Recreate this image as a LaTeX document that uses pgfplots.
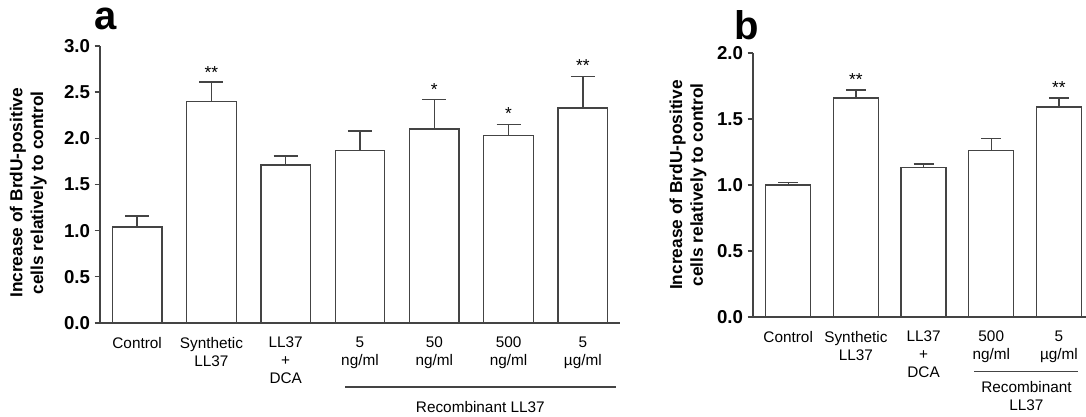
\documentclass[border=0pt]{standalone}
\usepackage{pgfplots}
\pgfplotsset{compat=1.18}
\usepackage{fontspec}
\setmainfont{Liberation Sans}
\definecolor{barline}{HTML}{444444}
\pgfplotsset{
  mybars/.style={
    scale only axis,
    axis lines=left,
    axis line style={barline, line width=1pt, -},
    ymin=0,
    xtick=data,
    x tick style={draw=none},
    y tick style={barline, line width=1pt},
    tick align=outside,
    major tick length=4pt,
    /pgf/number format/assume math mode=true,
    yticklabel style={font=\fontsize{14}{16}\selectfont\bfseries, /pgf/number format/.cd, fixed, fixed zerofill, precision=1},
    xticklabel style={font=\fontsize{11.5}{13.5}\selectfont, align=center, anchor=north, yshift=-3pt},
    ylabel style={font=\fontsize{13}{15.5}\selectfont\bfseries, align=center},
    clip=false,
  },
  barplot/.style={
    ybar, draw=barline, fill=white, line width=1pt,
    error bars/y dir=plus, error bars/y explicit,
    error bars/error bar style={barline, line width=1pt},
  },
}
\begin{document}
\begin{tikzpicture}
\useasboundingbox (0,0) rectangle (814.5pt,312.75pt);
% panel a
\begin{axis}[mybars,
  at={(75pt,70.5pt)}, anchor=south west,
  width=390pt, height=207.75pt,
  xmin=-0.5, xmax=6.5, ymax=3.0,
  ytick={0,0.5,1,1.5,2,2.5,3},
  xticklabels={Control, Synthetic\\LL37, LL37\\+\\DCA, 5\\ng/ml, 50\\ng/ml, 500\\ng/ml, 5\\\textmu g/ml},
  ylabel={Increase of BrdU-positive\\cells relatively to control},
  ylabel style={at={(axis description cs:-0.138,0.47)}, anchor=center},
]
\addplot[barplot, bar width=0.667, error bars/error mark options={rotate=90, mark size=9pt, line width=1pt, barline}]
coordinates {
 (0,1.04) +- (0,0.12)
 (1,2.40) +- (0,0.21)
 (2,1.71) +- (0,0.10)
 (3,1.87) +- (0,0.21)
 (4,2.10) +- (0,0.32)
 (5,2.03) +- (0,0.12)
 (6,2.33) +- (0,0.34)
};
\node[font=\fontsize{13}{13}\selectfont, anchor=south] at (axis cs:1,2.60) {**};
\node[font=\fontsize{13}{13}\selectfont, anchor=south] at (axis cs:4,2.41) {*};
\node[font=\fontsize{13}{13}\selectfont, anchor=south] at (axis cs:5,2.15) {*};
\node[font=\fontsize{13}{13}\selectfont, anchor=south] at (axis cs:6,2.67) {**};
\draw[barline, line width=1pt] ([yshift=-48pt]axis cs:2.8,0) -- ([yshift=-48pt]axis cs:6.45,0);
\node[font=\fontsize{11.5}{13.5}\selectfont] at ([yshift=-63pt]axis cs:4.62,0) {Recombinant LL37};
\node[font=\fontsize{30}{30}\selectfont\bfseries, anchor=base] at ([yshift=12pt]axis cs:-0.42,3) {a};
\end{axis}
% panel b
\begin{axis}[mybars,
  at={(564.75pt,75pt)}, anchor=south west,
  width=249.75pt, height=198pt,
  xmin=-0.52, xmax=4.4, ymax=2.0,
  ytick={0,0.5,1,1.5,2},
  xticklabels={Control, Synthetic\\LL37, LL37\\+\\DCA, 500\\ng/ml, 5\\\textmu g/ml},
  ylabel={Increase of BrdU-positive\\cells relatively to control},
  ylabel style={at={(axis description cs:-0.195,0.5)}, anchor=center},
]
\addplot[barplot, bar width=0.667, error bars/error mark options={rotate=90, mark size=7.5pt, line width=1pt, barline}]
coordinates {
 (0,1.00) +- (0,0.02)
 (1,1.66) +- (0,0.06)
 (2,1.135) +- (0,0.025)
 (3,1.26) +- (0,0.09)
 (4,1.59) +- (0,0.07)
};
\node[font=\fontsize{13}{13}\selectfont, anchor=south] at (axis cs:1,1.72) {**};
\node[font=\fontsize{13}{13}\selectfont, anchor=south] at (axis cs:4,1.66) {**};
\draw[barline, line width=1pt] ([yshift=-41pt]axis cs:2.75,0) -- ([yshift=-41pt]axis cs:4.28,0);
\node[font=\fontsize{11.5}{13.5}\selectfont, align=center, anchor=north] at ([yshift=-45pt]axis cs:3.52,0) {Recombinant\\LL37};
\node[font=\fontsize{30}{30}\selectfont\bfseries, anchor=base] at ([yshift=10pt]axis cs:-0.62,2) {b};
\end{axis}
\end{tikzpicture}
\end{document}
